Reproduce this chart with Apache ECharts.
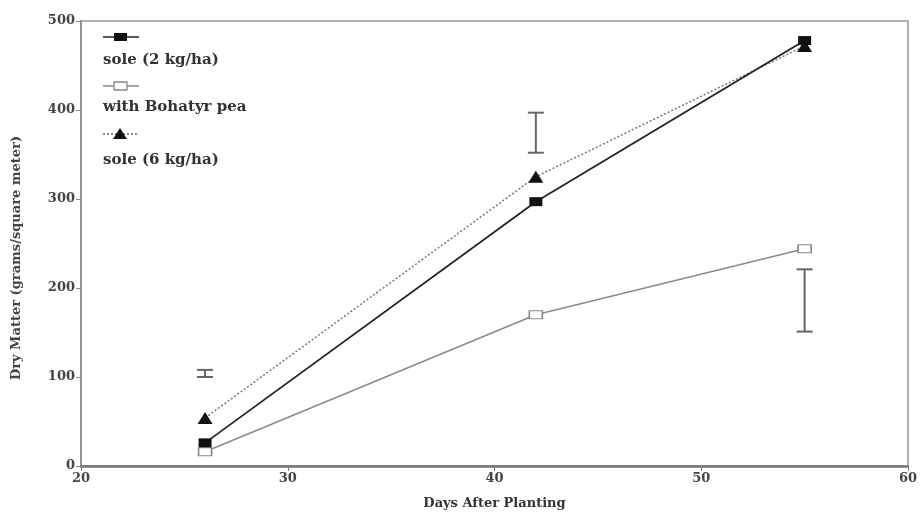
<!DOCTYPE html>
<html><head><meta charset="utf-8">
<script src="https://cdn.jsdelivr.net/npm/echarts@6/dist/echarts.min.js"></script>
<style>html,body{margin:0;padding:0;background:#fff}#c{width:920px;height:514px}</style>
</head><body><div id="c"></div>
<script>
var days = [26, 42, 55];
var sole2 = [26, 297, 478];
var bohatyr = [16, 170, 244];
var sole6 = [54, 325, 472];
var errDays = [26, 42, 55];
var errLow = [100, 352, 151];
var errHigh = [108, 397, 221];
var xTicks = [20, 30, 40, 50, 60];
var yTicks = [0, 100, 200, 300, 400, 500];
var legendNames = ['sole (2 kg/ha)', 'with Bohatyr pea', 'sole (6 kg/ha)'];
var xName = 'Days After Planting';
var yName = 'Dry Matter (grams/square meter)';

function pairs(v){ return days.map(function(d,i){return [d, v[i]];}); }
var errData = errDays.map(function(d,i){return [d, errLow[i], errHigh[i]];});

var chart = echarts.init(document.getElementById('c'));
var serif = 'DejaVu Serif';
var legendTop = [37, 86, 134];
var legendTextTop = [53, 100, 153];
var legendGraphics = [];
var lineColors = ['#222', '#8a8a8a', '#666'];
legendNames.forEach(function(n,i){
  legendGraphics.push({type:'line', shape:{x1:103,y1:legendTop[i],x2:139,y2:legendTop[i]}, style:{stroke:lineColors[i], lineWidth:1.3, lineDash: i==2?[2,2]:null}});
  if(i===0) legendGraphics.push({type:'rect', shape:{x:114,y:legendTop[i]-4,width:13,height:8}, style:{fill:'#111'}});
  if(i===1) legendGraphics.push({type:'rect', shape:{x:114,y:legendTop[i]-4,width:13,height:8}, style:{fill:'#fff', stroke:'#888', lineWidth:1.3}});
  if(i===2) legendGraphics.push({type:'polygon', shape:{points:[[113,legendTop[i]+5],[127,legendTop[i]+5],[120,legendTop[i]-6]]}, style:{fill:'#111'}});
  legendGraphics.push({type:'text', left:103, top:legendTextTop[i], style:{text:n, font:'bold 15px "DejaVu Serif"', fill:'#333'}});
});
legendGraphics.push({type:'text', x:10, y:258, rotation:Math.PI/2,
  style:{text:yName, font:'bold 13px "DejaVu Serif"', fill:'#444', align:'center', verticalAlign:'top'}});

chart.setOption({
  animation:false,
  grid:{left:81, right:12, top:21, bottom:48, outerBoundsMode:'none', containLabel:false, show:true, borderColor:'#999', borderWidth:1.5},
  xAxis:{type:'value', min:20, max:60, interval:10,
    name:xName, nameLocation:'middle', nameGap:31,
    nameTextStyle:{fontFamily:serif, fontWeight:'bold', fontSize:13, color:'#333'},
    axisLine:{lineStyle:{color:'#777', width:2.5}},
    axisTick:{show:true, length:5, lineStyle:{color:'#777'}},
    axisLabel:{fontFamily:serif, fontWeight:'bold', fontSize:13, color:'#444', margin:6, formatter:function(v){return xTicks.indexOf(v)>=0?String(v):'';}},
    splitLine:{show:false}},
  yAxis:{type:'value', min:0, max:500, interval:100,
    axisLine:{show:true, lineStyle:{color:'#888', width:1.5}},
    axisTick:{show:true, length:5, lineStyle:{color:'#888'}},
    axisLabel:{fontFamily:serif, fontWeight:'bold', fontSize:13, color:'#444', margin:6, formatter:function(v){return yTicks.indexOf(v)>=0?String(v):'';}},
    splitLine:{show:false}},
  graphic: legendGraphics,
  series:[
    {name:legendNames[1], type:'line', data:pairs(bohatyr), symbol:'rect', symbolSize:[13,8],
      lineStyle:{color:'#8a8a8a', width:1.5}, itemStyle:{color:'#fff', borderColor:'#888', borderWidth:1.3}, z:2},
    {name:legendNames[2], type:'line', data:pairs(sole6), symbol:'triangle', symbolSize:[15,12],
      lineStyle:{color:'#777', width:1.5, type:[2,2]}, itemStyle:{color:'#111'}, z:3},
    {name:legendNames[0], type:'line', data:pairs(sole2), symbol:'rect', symbolSize:[13,9],
      lineStyle:{color:'#222', width:1.8}, itemStyle:{color:'#111'}, z:4},
    {type:'custom', data:errData, z:5,
      renderItem:function(params, api){
        var x = api.value(0);
        var lo = api.coord([x, api.value(1)]);
        var hi = api.coord([x, api.value(2)]);
        var w = 8;
        var st = {stroke:'#666', lineWidth:2};
        return {type:'group', children:[
          {type:'line', shape:{x1:lo[0],y1:lo[1],x2:hi[0],y2:hi[1]}, style:st},
          {type:'line', shape:{x1:lo[0]-w,y1:lo[1],x2:lo[0]+w,y2:lo[1]}, style:st},
          {type:'line', shape:{x1:hi[0]-w,y1:hi[1],x2:hi[0]+w,y2:hi[1]}, style:st}
        ]};
      }}
  ]
});
</script></body></html>
